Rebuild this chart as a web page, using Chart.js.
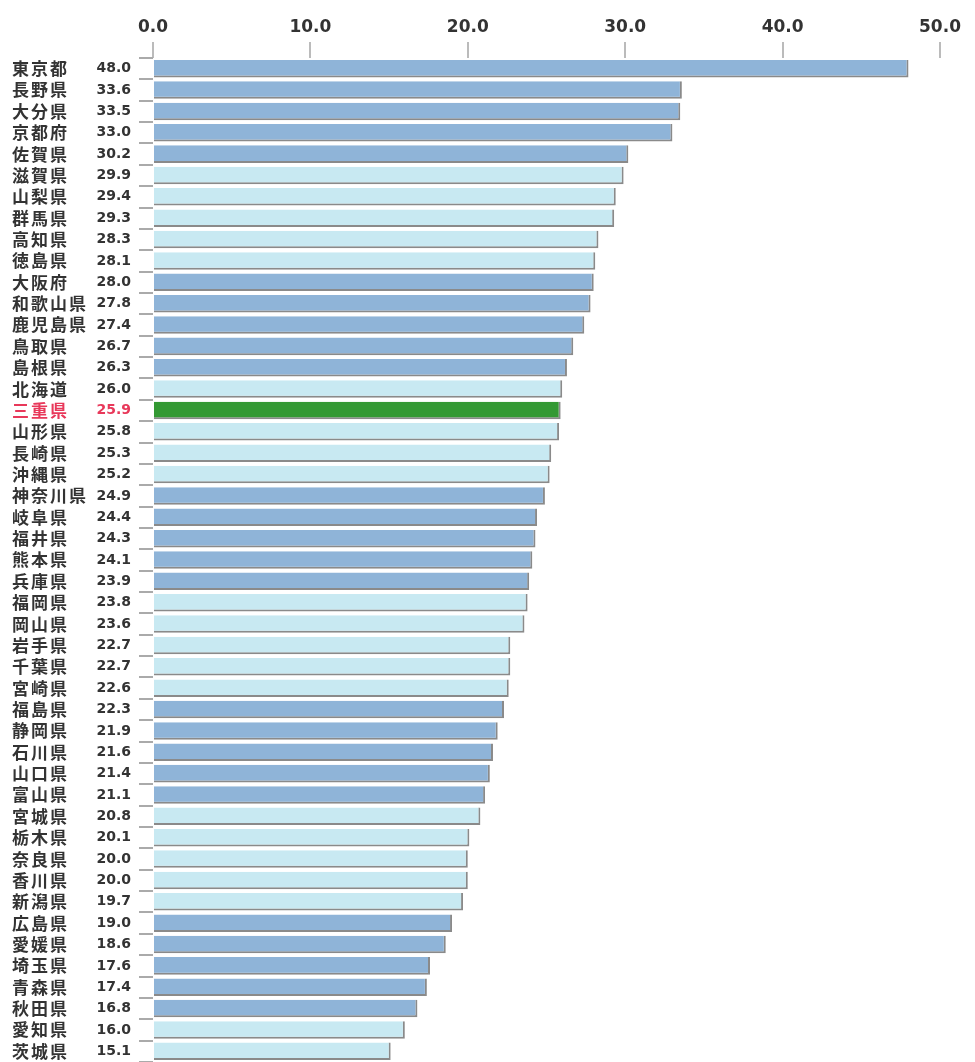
<!DOCTYPE html>
<html>
<head>
<meta charset="utf-8">
<script src="https://cdn.jsdelivr.net/npm/chart.js@4.4.1/dist/chart.umd.min.js"></script>
<style>
  html, body { margin: 0; padding: 0; background: #fff; }
  #wrap { width: 975px; height: 1062px; }
</style>
</head>
<body>
<div id="wrap"><canvas id="chart"></canvas></div>
<script>
  // Prefectures, in chart order
  const prefectures = [
    '東京都', '長野県', '大分県', '京都府', '佐賀県',
    '滋賀県', '山梨県', '群馬県', '高知県', '徳島県',
    '大阪府', '和歌山県', '鹿児島県', '鳥取県', '島根県',
    '北海道', '三重県', '山形県', '長崎県', '沖縄県',
    '神奈川県', '岐阜県', '福井県', '熊本県', '兵庫県',
    '福岡県', '岡山県', '岩手県', '千葉県', '宮崎県',
    '福島県', '静岡県', '石川県', '山口県', '富山県',
    '宮城県', '栃木県', '奈良県', '香川県', '新潟県',
    '広島県', '愛媛県', '埼玉県', '青森県', '秋田県',
    '愛知県', '茨城県'
  ];

  const values = [
    48.0, 33.6, 33.5, 33.0, 30.2,
    29.9, 29.4, 29.3, 28.3, 28.1,
    28.0, 27.8, 27.4, 26.7, 26.3,
    26.0, 25.9, 25.8, 25.3, 25.2,
    24.9, 24.4, 24.3, 24.1, 23.9,
    23.8, 23.6, 22.7, 22.7, 22.6,
    22.3, 21.9, 21.6, 21.4, 21.1,
    20.8, 20.1, 20.0, 20.0, 19.7,
    19.0, 18.6, 17.6, 17.4, 16.8,
    16.0, 15.1
  ];

  const xTicks = [0, 10, 20, 30, 40, 50];
  const highlight = '三重県';

  const BLUE = '#8fb4d8';
  const LIGHT = '#c8e9f2';
  const GREEN = '#339933';

  // groups of five alternate between blue and light blue
  const barColors = prefectures.map((p, i) => {
    if (p === highlight) return GREEN;
    return Math.floor(i / 5) % 2 === 0 ? BLUE : LIGHT;
  });

  // name + value columns on the left
  const labelColumns = {
    id: 'labelColumns',
    afterDraw(chart) {
      const { ctx } = chart;
      const yScale = chart.scales.y;
      ctx.save();
      ctx.textBaseline = 'middle';
      prefectures.forEach((p, i) => {
        const y = yScale.getPixelForValue(i);
        ctx.fillStyle = p === highlight ? '#e8385a' : '#333';
        ctx.font = 'bold 17px "Noto Sans CJK JP", sans-serif';
        ctx.letterSpacing = '2px';
        ctx.textAlign = 'left';
        ctx.fillText(p, 12, y);
        ctx.font = 'bold 14px "DejaVu Sans", sans-serif';
        ctx.letterSpacing = '0px';
        ctx.textAlign = 'right';
        ctx.fillText(values[i].toFixed(1), 131, y);
      });
      ctx.restore();
    }
  };

  new Chart(document.getElementById('chart'), {
    type: 'bar',
    data: {
      labels: prefectures,
      datasets: [{
        data: values,
        backgroundColor: barColors,
        borderColor: '#8a8a8a',
        borderWidth: { top: 0, right: 2, bottom: 2, left: 0 },
        borderSkipped: false,
        barPercentage: 0.82,
        categoryPercentage: 1.0
      }]
    },
    options: {
      indexAxis: 'y',
      responsive: true,
      maintainAspectRatio: false,
      animation: false,
      layout: { padding: { left: 0, right: 35, top: 0, bottom: 0 } },
      plugins: {
        legend: { display: false },
        tooltip: { enabled: false }
      },
      scales: {
        x: {
          position: 'top',
          min: 0,
          max: 50,
          afterBuildTicks(scale) {
            scale.ticks = xTicks.map(v => ({ value: v }));
          },
          afterFit(scale) { scale.height = 58; },
          border: { display: false },
          grid: {
            drawOnChartArea: false,
            drawTicks: true,
            tickLength: 16,
            color: '#bbbbbb',
            lineWidth: 2
          },
          ticks: {
            padding: 4,
            color: '#333',
            font: { family: 'DejaVu Sans', size: 17, weight: 'bold' },
            callback: v => Number(v).toFixed(1)
          }
        },
        y: {
          afterFit(scale) { scale.width = 153; },
          border: { display: false },
          grid: {
            offset: true,
            drawOnChartArea: false,
            drawTicks: true,
            tickLength: 14,
            color: '#aaaaaa',
            lineWidth: 2
          },
          ticks: { display: false }
        }
      }
    },
    plugins: [labelColumns]
  });
</script>
</body>
</html>
